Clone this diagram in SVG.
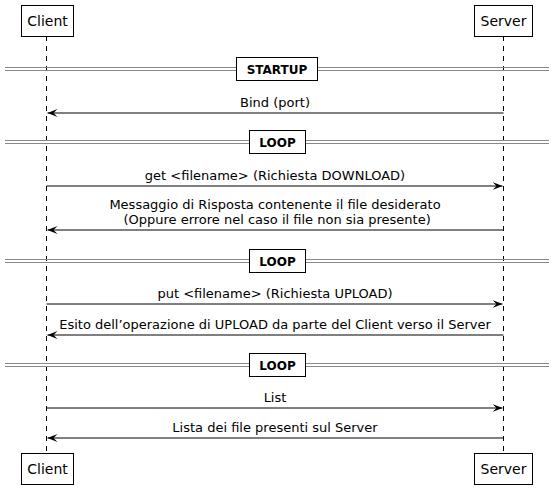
<svg xmlns="http://www.w3.org/2000/svg" width="554" height="491" viewBox="0 0 554 491">
<style>
text{font-family:"DejaVu Sans","Liberation Sans",sans-serif;font-size:13px;fill:#000}
.c{text-anchor:middle}
.p{font-size:14px}
.b{font-weight:bold;font-size:12px}
.box{fill:#fff;stroke:#000;stroke-width:1}
.life{stroke:#000;stroke-width:1;stroke-dasharray:5,5}
.sep{stroke:#888;stroke-width:1}
.msg{stroke:#000;stroke-width:1;fill:none}
</style>
<defs>
<marker id="ah" markerWidth="12" markerHeight="10" refX="10" refY="4" orient="auto" markerUnits="userSpaceOnUse">
<polygon points="0,0 10,4 0,8 4,4" fill="#000"/>
</marker>
</defs>
<g id="lifelines">
<line class="life" x1="46.5" y1="36" x2="46.5" y2="454"/>
<line class="life" x1="503.5" y1="36" x2="503.5" y2="454"/>
</g>
<g id="client-top"><rect class="box" x="21.5" y="5.5" width="52" height="31"/><text class="c p" x="47.5" y="26">Client</text></g>
<g id="server-top"><rect class="box" x="474.5" y="5.5" width="58" height="31"/><text class="c p" x="503.5" y="26">Server</text></g>
<g id="client-bottom"><rect class="box" x="21.5" y="453.5" width="52" height="31"/><text class="c p" x="47.5" y="474">Client</text></g>
<g id="server-bottom"><rect class="box" x="474.5" y="453.5" width="58" height="31"/><text class="c p" x="503.5" y="474">Server</text></g>
<g id="sep-startup">
<line class="sep" x1="5" y1="67.5" x2="549" y2="67.5"/><line class="sep" x1="5" y1="70.5" x2="549" y2="70.5"/>
<rect class="box" x="236.5" y="57.5" width="81" height="23"/><text class="c b" x="277" y="74">STARTUP</text>
</g>
<g id="sep-loop1">
<line class="sep" x1="5" y1="140.5" x2="549" y2="140.5"/><line class="sep" x1="5" y1="143.5" x2="549" y2="143.5"/>
<rect class="box" x="249.5" y="130.5" width="56" height="23"/><text class="c b" x="277.5" y="147">LOOP</text>
</g>
<g id="sep-loop2">
<line class="sep" x1="5" y1="259.5" x2="549" y2="259.5"/><line class="sep" x1="5" y1="262.5" x2="549" y2="262.5"/>
<rect class="box" x="249.5" y="249.5" width="56" height="23"/><text class="c b" x="277.5" y="266">LOOP</text>
</g>
<g id="sep-loop3">
<line class="sep" x1="5" y1="363.5" x2="549" y2="363.5"/><line class="sep" x1="5" y1="366.5" x2="549" y2="366.5"/>
<rect class="box" x="249.5" y="353.5" width="56" height="23"/><text class="c b" x="277.5" y="370">LOOP</text>
</g>
<g id="connectors">
<line class="msg" x1="503.5" y1="113" x2="47.5" y2="113" marker-end="url(#ah)"/>
<line class="msg" x1="46.5" y1="186" x2="502.5" y2="186" marker-end="url(#ah)"/>
<line class="msg" x1="503.5" y1="230" x2="47.5" y2="230" marker-end="url(#ah)"/>
<line class="msg" x1="46.5" y1="304" x2="502.5" y2="304" marker-end="url(#ah)"/>
<line class="msg" x1="503.5" y1="335" x2="47.5" y2="335" marker-end="url(#ah)"/>
<line class="msg" x1="46.5" y1="408" x2="502.5" y2="408" marker-end="url(#ah)"/>
<line class="msg" x1="503.5" y1="438" x2="47.5" y2="438" marker-end="url(#ah)"/>
</g>
<g id="labels">
<text class="c" x="275" y="107">Bind (port)</text>
<text class="c" x="275" y="180">get &lt;filename&gt; (Richiesta DOWNLOAD)</text>
<text class="c" x="275" y="209">Messaggio di Risposta contenente il file desiderato</text>
<text class="c" x="275" y="224" xml:space="preserve"> (Oppure errore nel caso il file non sia presente)</text>
<text class="c" x="275" y="298">put &lt;filename&gt; (Richiesta UPLOAD)</text>
<text class="c" x="275" y="329">Esito dell’operazione di UPLOAD da parte del Client verso il Server</text>
<text class="c" x="275" y="402">List</text>
<text class="c" x="275" y="432">Lista dei file presenti sul Server</text>
</g>
</svg>
